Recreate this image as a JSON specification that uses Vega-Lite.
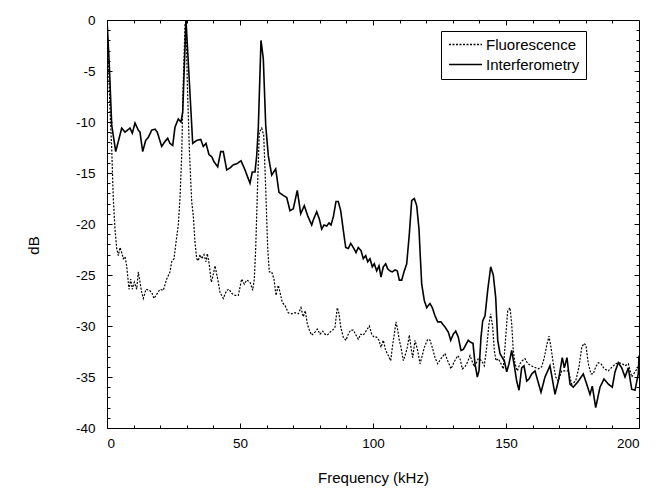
{
  "$schema": "https://vega.github.io/schema/vega-lite/v6.json",
  "width": 532,
  "height": 408,
  "autosize": "none",
  "padding": {"left": 107, "top": 20, "right": 17, "bottom": 70},
  "background": "white",
  "config": {
    "view": {"stroke": "black", "strokeWidth": 1},
    "axis": {"grid": false, "domainColor": "black", "tickColor": "black", "tickWidth": 1, "labelColor": "black", "titleColor": "black", "labelFont": "Liberation Sans", "titleFont": "Liberation Sans", "labelFontSize": 13.5, "titleFontSize": 15, "titleFontWeight": "normal", "labelExpr": "'' + datum.value"}
  },
  "datasets": {
    "F": [{"f":0,"db":0},{"f":1.13,"db":-8.7},{"f":1.77,"db":-12.6},{"f":2.37,"db":-17.5},{"f":3.0,"db":-20.5},{"f":3.65,"db":-22.4},{"f":4.25,"db":-23.1},{"f":4.89,"db":-22.3},{"f":5.53,"db":-22.8},{"f":6.13,"db":-23.4},{"f":6.77,"db":-23.2},{"f":7.41,"db":-24.1},{"f":8.27,"db":-26.4},{"f":8.91,"db":-25.4},{"f":9.51,"db":-26.4},{"f":10.26,"db":-25.7},{"f":11.17,"db":-26.4},{"f":11.77,"db":-24.7},{"f":12.41,"db":-25.7},{"f":13.05,"db":-26.7},{"f":13.65,"db":-27.3},{"f":14.66,"db":-26.4},{"f":15.9,"db":-26.5},{"f":16.8,"db":-26.7},{"f":17.67,"db":-27.3},{"f":18.91,"db":-26.8},{"f":19.92,"db":-26.4},{"f":21.17,"db":-26.5},{"f":22.44,"db":-25.4},{"f":23.68,"db":-24.7},{"f":24.32,"db":-23.7},{"f":25.19,"db":-23.4},{"f":25.94,"db":-21.8},{"f":26.8,"db":-20.1},{"f":27.44,"db":-17.5},{"f":28.08,"db":-13.3},{"f":28.68,"db":-6.1},{"f":29.32,"db":-0.5},{"f":29.7,"db":0},{"f":30.19,"db":-6.1},{"f":30.94,"db":-12.6},{"f":31.84,"db":-17.8},{"f":32.44,"db":-19.2},{"f":33.08,"db":-21.8},{"f":33.72,"db":-23.4},{"f":34.32,"db":-23.6},{"f":34.96,"db":-23.0},{"f":35.6,"db":-23.4},{"f":36.47,"db":-23.0},{"f":37.22,"db":-23.7},{"f":37.71,"db":-22.9},{"f":38.46,"db":-24.0},{"f":39.2,"db":-25.7},{"f":39.59,"db":-25.4},{"f":40.6,"db":-24.1},{"f":41.62,"db":-25.4},{"f":42.48,"db":-26.7},{"f":43.72,"db":-27.3},{"f":45.0,"db":-26.5},{"f":45.86,"db":-26.4},{"f":46.88,"db":-26.8},{"f":48.12,"db":-27.0},{"f":49.36,"db":-27.0},{"f":50.64,"db":-25.4},{"f":51.62,"db":-25.9},{"f":52.52,"db":-25.5},{"f":53.76,"db":-25.7},{"f":54.77,"db":-26.5},{"f":55.38,"db":-25.4},{"f":55.9,"db":-22.4},{"f":56.65,"db":-15.9},{"f":57.26,"db":-11.0},{"f":58.16,"db":-10.6},{"f":58.91,"db":-11.3},{"f":59.66,"db":-16.5},{"f":60.41,"db":-22.4},{"f":61.02,"db":-24.7},{"f":61.92,"db":-24.7},{"f":62.78,"db":-25.4},{"f":63.53,"db":-27.0},{"f":64.4,"db":-26.0},{"f":65.04,"db":-26.7},{"f":65.9,"db":-27.7},{"f":66.92,"db":-28.0},{"f":68.16,"db":-28.7},{"f":69.44,"db":-28.8},{"f":70.68,"db":-28.7},{"f":71.92,"db":-28.8},{"f":72.93,"db":-28.2},{"f":73.8,"db":-29.1},{"f":74.55,"db":-28.5},{"f":75.3,"db":-29.8},{"f":76.2,"db":-30.5},{"f":76.95,"db":-30.9},{"f":78.2,"db":-30.6},{"f":79.06,"db":-30.3},{"f":80.08,"db":-30.8},{"f":81.09,"db":-30.5},{"f":81.95,"db":-30.8},{"f":82.82,"db":-30.9},{"f":83.83,"db":-30.6},{"f":84.85,"db":-30.4},{"f":85.71,"db":-30.1},{"f":86.58,"db":-28.2},{"f":87.22,"db":-28.8},{"f":87.86,"db":-30.1},{"f":88.83,"db":-31.1},{"f":89.85,"db":-31.4},{"f":90.71,"db":-30.8},{"f":91.62,"db":-30.4},{"f":92.59,"db":-30.4},{"f":93.61,"db":-30.9},{"f":94.47,"db":-31.3},{"f":95.38,"db":-30.8},{"f":96.35,"db":-30.9},{"f":97.63,"db":-30.4},{"f":98.61,"db":-30.0},{"f":99.51,"db":-30.8},{"f":100.38,"db":-31.1},{"f":101.39,"db":-31.1},{"f":102.26,"db":-31.4},{"f":103.01,"db":-32.1},{"f":103.87,"db":-31.4},{"f":104.77,"db":-32.4},{"f":105.75,"db":-32.9},{"f":106.65,"db":-33.4},{"f":107.41,"db":-31.8},{"f":108.01,"db":-30.8},{"f":108.65,"db":-29.6},{"f":109.29,"db":-30.4},{"f":109.89,"db":-31.4},{"f":110.53,"db":-32.1},{"f":111.39,"db":-33.4},{"f":112.29,"db":-32.7},{"f":112.89,"db":-32.1},{"f":113.65,"db":-30.9},{"f":114.29,"db":-32.1},{"f":114.92,"db":-33.1},{"f":115.79,"db":-31.4},{"f":116.8,"db":-32.4},{"f":117.67,"db":-33.7},{"f":118.31,"db":-33.1},{"f":119.29,"db":-32.1},{"f":120.56,"db":-31.3},{"f":121.43,"db":-31.4},{"f":122.29,"db":-32.1},{"f":123.31,"db":-33.1},{"f":124.32,"db":-33.7},{"f":125.56,"db":-33.2},{"f":127.07,"db":-32.7},{"f":128.08,"db":-33.4},{"f":129.32,"db":-34.2},{"f":130.56,"db":-33.5},{"f":131.84,"db":-32.9},{"f":132.71,"db":-33.2},{"f":133.57,"db":-34.2},{"f":134.59,"db":-34.0},{"f":135.6,"db":-33.5},{"f":136.47,"db":-32.9},{"f":137.33,"db":-33.5},{"f":138.08,"db":-34.0},{"f":138.72,"db":-33.7},{"f":139.59,"db":-33.2},{"f":140.86,"db":-33.4},{"f":141.84,"db":-33.9},{"f":142.74,"db":-32.1},{"f":143.61,"db":-29.8},{"f":144.25,"db":-28.8},{"f":145.0,"db":-30.1},{"f":145.6,"db":-32.4},{"f":146.24,"db":-33.4},{"f":147.11,"db":-33.2},{"f":148.12,"db":-33.7},{"f":148.98,"db":-34.2},{"f":149.89,"db":-31.1},{"f":150.64,"db":-28.5},{"f":151.5,"db":-28.2},{"f":152.14,"db":-29.8},{"f":152.74,"db":-32.4},{"f":153.38,"db":-33.7},{"f":154.25,"db":-34.4},{"f":155.26,"db":-33.7},{"f":156.13,"db":-33.4},{"f":157.14,"db":-33.2},{"f":158.16,"db":-33.7},{"f":160.26,"db":-34.0},{"f":162.14,"db":-34.2},{"f":163.42,"db":-34.0},{"f":164.4,"db":-33.1},{"f":165.3,"db":-31.9},{"f":166.17,"db":-31.0},{"f":166.92,"db":-32.1},{"f":167.78,"db":-33.7},{"f":168.68,"db":-35.0},{"f":169.66,"db":-35.4},{"f":170.94,"db":-34.4},{"f":172.18,"db":-34.4},{"f":173.42,"db":-34.4},{"f":174.7,"db":-35.7},{"f":176.2,"db":-35.4},{"f":177.44,"db":-34.0},{"f":178.46,"db":-32.1},{"f":179.32,"db":-31.7},{"f":180.08,"db":-31.9},{"f":180.94,"db":-33.7},{"f":181.95,"db":-34.7},{"f":182.82,"db":-34.7},{"f":183.72,"db":-34.0},{"f":184.7,"db":-33.6},{"f":185.71,"db":-33.7},{"f":186.95,"db":-34.2},{"f":188.46,"db":-34.4},{"f":189.96,"db":-34.0},{"f":191.24,"db":-33.7},{"f":192.48,"db":-33.6},{"f":193.72,"db":-33.7},{"f":194.74,"db":-33.9},{"f":195.98,"db":-33.7},{"f":197.26,"db":-35.0},{"f":198.5,"db":-34.5},{"f":199.74,"db":-34.0},{"f":200,"db":-33.4}],
    "I": [{"f":0,"db":0},{"f":0.8,"db":-4},{"f":1.77,"db":-10.3},{"f":3.27,"db":-12.9},{"f":5.53,"db":-10.6},{"f":6.77,"db":-11.0},{"f":8.65,"db":-10.6},{"f":9.51,"db":-11.1},{"f":10.53,"db":-10.1},{"f":11.77,"db":-10.8},{"f":12.41,"db":-11.0},{"f":13.42,"db":-12.9},{"f":14.55,"db":-11.8},{"f":15.53,"db":-11.5},{"f":16.8,"db":-10.8},{"f":18.05,"db":-10.7},{"f":18.91,"db":-11.0},{"f":20.56,"db":-12.4},{"f":21.8,"db":-11.9},{"f":22.82,"db":-11.6},{"f":23.68,"db":-12.1},{"f":24.7,"db":-12.3},{"f":25.56,"db":-10.5},{"f":26.8,"db":-9.7},{"f":27.82,"db":-10.0},{"f":28.46,"db":-9.0},{"f":29.7,"db":0},{"f":32.22,"db":-12.1},{"f":33.72,"db":-11.8},{"f":35.23,"db":-11.7},{"f":36.2,"db":-12.4},{"f":37.22,"db":-12.1},{"f":38.35,"db":-13.2},{"f":39.36,"db":-13.4},{"f":40.23,"db":-13.9},{"f":41.62,"db":-14.4},{"f":42.74,"db":-12.9},{"f":43.72,"db":-12.9},{"f":45.0,"db":-14.7},{"f":46.24,"db":-14.5},{"f":47.48,"db":-14.2},{"f":48.76,"db":-14.1},{"f":50.38,"db":-13.8},{"f":51.88,"db":-14.7},{"f":53.76,"db":-16.0},{"f":54.62,"db":-14.9},{"f":55.64,"db":-14.9},{"f":56.28,"db":-13.3},{"f":56.88,"db":-10.6},{"f":57.89,"db":-2.0},{"f":58.76,"db":-3.8},{"f":59.66,"db":-10.3},{"f":60.64,"db":-13.3},{"f":61.92,"db":-15.2},{"f":63.42,"db":-14.6},{"f":64.66,"db":-16.9},{"f":66.28,"db":-17.2},{"f":67.56,"db":-17.4},{"f":68.8,"db":-18.7},{"f":70.04,"db":-18.5},{"f":71.54,"db":-16.7},{"f":72.82,"db":-19.0},{"f":74.17,"db":-18.2},{"f":75.45,"db":-19.2},{"f":76.95,"db":-20.1},{"f":77.56,"db":-19.6},{"f":78.84,"db":-18.8},{"f":79.81,"db":-19.5},{"f":80.71,"db":-20.5},{"f":81.58,"db":-20.1},{"f":82.59,"db":-20.2},{"f":83.46,"db":-19.9},{"f":84.21,"db":-20.1},{"f":85.08,"db":-19.3},{"f":86.09,"db":-17.8},{"f":86.95,"db":-17.8},{"f":87.86,"db":-18.7},{"f":88.83,"db":-20.6},{"f":89.74,"db":-22.3},{"f":90.71,"db":-22.4},{"f":91.62,"db":-21.9},{"f":92.59,"db":-22.3},{"f":93.61,"db":-22.8},{"f":94.47,"db":-22.3},{"f":95.49,"db":-22.6},{"f":96.35,"db":-23.4},{"f":97.26,"db":-23.1},{"f":98.01,"db":-23.7},{"f":98.87,"db":-23.4},{"f":99.74,"db":-24.2},{"f":100.49,"db":-23.9},{"f":101.39,"db":-24.6},{"f":102.26,"db":-24.1},{"f":103.01,"db":-25.2},{"f":103.87,"db":-24.2},{"f":104.77,"db":-23.9},{"f":105.53,"db":-24.4},{"f":106.39,"db":-24.6},{"f":107.26,"db":-24.7},{"f":108.27,"db":-24.5},{"f":109.14,"db":-24.6},{"f":109.89,"db":-25.5},{"f":110.79,"db":-25.5},{"f":111.65,"db":-24.7},{"f":112.67,"db":-23.9},{"f":113.65,"db":-21.0},{"f":114.55,"db":-17.7},{"f":115.53,"db":-17.5},{"f":116.43,"db":-18.2},{"f":117.29,"db":-20.5},{"f":117.67,"db":-22.6},{"f":118.31,"db":-25.9},{"f":119.29,"db":-27.5},{"f":120.19,"db":-28.2},{"f":121.43,"db":-27.8},{"f":122.29,"db":-28.2},{"f":123.31,"db":-29.0},{"f":124.32,"db":-29.6},{"f":125.56,"db":-29.6},{"f":127.07,"db":-30.1},{"f":128.31,"db":-30.6},{"f":129.21,"db":-31.4},{"f":130.19,"db":-30.8},{"f":131.09,"db":-30.5},{"f":132.07,"db":-31.1},{"f":133.08,"db":-32.4},{"f":133.95,"db":-32.3},{"f":134.96,"db":-31.8},{"f":135.83,"db":-31.4},{"f":136.73,"db":-31.6},{"f":137.59,"db":-31.7},{"f":138.35,"db":-33.7},{"f":139.21,"db":-35.0},{"f":139.85,"db":-34.4},{"f":140.6,"db":-31.1},{"f":141.24,"db":-29.5},{"f":142.11,"db":-29.0},{"f":143.12,"db":-26.5},{"f":144.25,"db":-24.2},{"f":145.22,"db":-25.0},{"f":146.13,"db":-27.2},{"f":146.88,"db":-31.4},{"f":147.74,"db":-32.7},{"f":148.61,"db":-33.1},{"f":149.36,"db":-33.4},{"f":150.26,"db":-34.5},{"f":151.13,"db":-33.7},{"f":152.14,"db":-32.4},{"f":153.0,"db":-33.7},{"f":154.02,"db":-35.4},{"f":154.89,"db":-36.3},{"f":155.9,"db":-34.1},{"f":156.77,"db":-33.9},{"f":157.78,"db":-35.4},{"f":158.65,"db":-35.2},{"f":159.66,"db":-34.7},{"f":160.9,"db":-34.4},{"f":163.16,"db":-36.5},{"f":164.66,"db":-35.0},{"f":166.54,"db":-33.9},{"f":168.42,"db":-36.7},{"f":169.66,"db":-35.4},{"f":171.16,"db":-33.1},{"f":171.92,"db":-34.1},{"f":172.93,"db":-33.1},{"f":174.06,"db":-35.7},{"f":175.3,"db":-36.0},{"f":176.95,"db":-35.5},{"f":179.06,"db":-34.7},{"f":180.34,"db":-35.7},{"f":181.58,"db":-36.7},{"f":182.44,"db":-35.9},{"f":183.72,"db":-38.0},{"f":185.34,"db":-36.0},{"f":186.84,"db":-35.2},{"f":188.46,"db":-35.7},{"f":189.96,"db":-36.0},{"f":190.98,"db":-34.5},{"f":192.22,"db":-33.6},{"f":193.5,"db":-34.1},{"f":194.74,"db":-35.0},{"f":195.98,"db":-34.1},{"f":197.26,"db":-36.2},{"f":198.5,"db":-36.3},{"f":199.74,"db":-34.7},{"f":200,"db":-32.9}]
  },
  "layer": [
    {
      "data": {"name": "F"},
      "mark": {"type": "line", "color": "black", "strokeWidth": 1.2, "clip": true},
      "encoding": {
        "x": {"field": "f", "type": "quantitative", "scale": {"domain": [0, 200], "nice": false, "zero": false},
              "axis": {"orient": "bottom", "values": [0, 50, 100, 150, 200], "ticks": false, "labelPadding": 8, "title": "Frequency (kHz)", "titleY": 42}},
        "y": {"field": "db", "type": "quantitative", "scale": {"domain": [-40, 0], "nice": false},
              "axis": {"orient": "left", "values": [0, -5, -10, -15, -20, -25, -30, -35, -40], "ticks": false, "labelPadding": 12, "title": "dB", "titleX": -66, "titleY": 225}},
        "strokeDash": {"datum": "Fluorescence", "type": "nominal",
          "scale": {"domain": ["Fluorescence", "Interferometry"], "range": [[2, 1.5], [1, 0]]},
          "legend": {"orient": "none", "legendX": 334, "legendY": 11, "title": null, "strokeColor": "black", "fillColor": "white", "padding": 6, "symbolType": "M-3,0H3", "symbolSize": 121, "symbolOffset": 11, "symbolStrokeColor": "black", "symbolStrokeWidth": 1.3, "labelFont": "Liberation Sans", "labelFontSize": 15, "labelColor": "black", "rowPadding": 4, "labelOffset": 13}}
      }
    },
    {
      "data": {"name": "I"},
      "mark": {"type": "line", "color": "black", "strokeWidth": 1.6, "clip": true},
      "encoding": {
        "x": {"field": "f", "type": "quantitative", "axis": null},
        "y": {"field": "db", "type": "quantitative", "axis": null},
        "strokeDash": {"datum": "Interferometry", "type": "nominal"}
      }
    },
    {
      "data": {"name": "I"},
      "mark": {"type": "line", "opacity": 0},
      "encoding": {
        "x": {"field": "f", "type": "quantitative",
              "axis": {"orient": "top", "offset": -408, "values": [50, 100, 150], "tickSize": 5, "labels": false, "domain": false, "title": null}},
        "y": {"field": "db", "type": "quantitative",
              "axis": {"orient": "right", "offset": -532, "values": [-5, -10, -15, -20, -25, -30, -35], "tickSize": 5, "labels": false, "domain": false, "title": null}}
      }
    },
    {
      "data": {"name": "I"},
      "mark": {"type": "line", "opacity": 0},
      "encoding": {
        "x": {"field": "f", "type": "quantitative",
              "axis": {"orient": "top", "offset": -408, "values": [10, 20, 30, 40, 60, 70, 80, 90, 110, 120, 130, 140, 160, 170, 180, 190], "tickSize": 3, "labels": false, "domain": false, "title": null}},
        "y": {"field": "db", "type": "quantitative",
              "axis": {"orient": "right", "offset": -532, "values": [-1, -2, -3, -4, -6, -7, -8, -9, -11, -12, -13, -14, -16, -17, -18, -19, -21, -22, -23, -24, -26, -27, -28, -29, -31, -32, -33, -34, -36, -37, -38, -39], "tickSize": 3, "labels": false, "domain": false, "title": null}}
      }
    },
    {
      "data": {"name": "I"},
      "mark": {"type": "line", "opacity": 0},
      "encoding": {
        "x": {"field": "f", "type": "quantitative",
              "axis": {"orient": "bottom", "offset": -408, "values": [10, 20, 30, 40, 60, 70, 80, 90, 110, 120, 130, 140, 160, 170, 180, 190], "tickSize": 3, "labels": false, "domain": false, "title": null}},
        "y": {"field": "db", "type": "quantitative",
              "axis": {"orient": "left", "offset": -532, "values": [-1, -2, -3, -4, -6, -7, -8, -9, -11, -12, -13, -14, -16, -17, -18, -19, -21, -22, -23, -24, -26, -27, -28, -29, -31, -32, -33, -34, -36, -37, -38, -39], "tickSize": 3, "labels": false, "domain": false, "title": null}}
      }
    },
    {
      "data": {"name": "I"},
      "mark": {"type": "line", "opacity": 0},
      "encoding": {
        "x": {"field": "f", "type": "quantitative",
              "axis": {"orient": "bottom", "offset": -408, "values": [50, 100, 150], "tickSize": 5, "labels": false, "domain": false, "title": null}},
        "y": {"field": "db", "type": "quantitative",
              "axis": {"orient": "left", "offset": -532, "values": [-5, -10, -15, -20, -25, -30, -35], "tickSize": 5, "labels": false, "domain": false, "title": null}}
      }
    }
  ],
  "resolve": {"axis": {"x": "independent", "y": "independent"}}
}
